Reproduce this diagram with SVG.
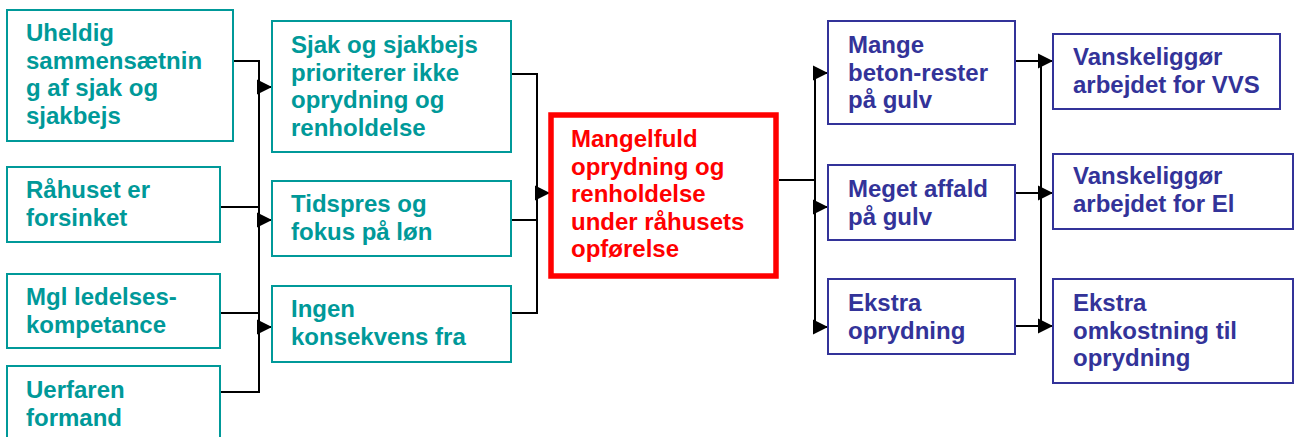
<svg xmlns="http://www.w3.org/2000/svg" width="1295" height="437" viewBox="0 0 1295 437">
<style>
  text { font-family: "Liberation Sans", Arial, sans-serif; font-weight: bold; font-size: 24px; }
  .teal rect { fill: #fff; stroke: #009999; stroke-width: 2; }
  .teal text { fill: #009999; }
  .blue rect { fill: #fff; stroke: #333399; stroke-width: 2; }
  .blue text { fill: #333399; }
  .red rect { fill: #fff; stroke: #ff0000; stroke-width: 5.5; }
  .red text { fill: #ff0000; }
  #connectors path { fill: none; stroke: #000; stroke-width: 2; }
  #connectors .arr { marker-end: url(#ah); }
</style>
<defs>
  <marker id="ah" markerUnits="userSpaceOnUse" markerWidth="15" markerHeight="16" refX="15" refY="7.5" orient="auto" viewBox="0 0 15 15">
    <path d="M0,0 L15,7.5 L0,15 Z" fill="#000" stroke="none"/>
  </marker>
</defs>
<rect width="1295" height="437" fill="#fff"/>

<g id="connectors">
  <path d="M233,61 H259 V392 H220"/>
  <path d="M220,207 H259"/>
  <path d="M220,313 H259"/>
  <path class="arr" d="M258,87 H272"/>
  <path class="arr" d="M258,220 H272"/>
  <path class="arr" d="M258,327 H272"/>
  <path d="M511,74 H537 V313 H511"/>
  <path d="M511,220 H537"/>
  <path class="arr" d="M536,193 H550"/>
  <path d="M779,180 H815"/>
  <path d="M815,73 V327"/>
  <path class="arr" d="M814,73 H828"/>
  <path class="arr" d="M814,207 H828"/>
  <path class="arr" d="M814,327 H828"/>
  <path d="M1015,61 H1041 V326"/>
  <path d="M1015,193 H1041"/>
  <path d="M1015,326 H1041"/>
  <path class="arr" d="M1040,61 H1053"/>
  <path class="arr" d="M1040,193 H1053"/>
  <path class="arr" d="M1040,326 H1053"/>
</g>

<g id="n-uheldig" class="teal">
  <rect x="7" y="10" width="226" height="131"/>
  <text x="26"><tspan x="26" y="41">Uheldig</tspan><tspan x="26" y="68.5">sammensætnin</tspan><tspan x="26" y="96">g af sjak og</tspan><tspan x="26" y="123.5">sjakbejs</tspan></text>
</g>
<g id="n-raahuset" class="teal">
  <rect x="7" y="167" width="213" height="75"/>
  <text x="26"><tspan x="26" y="198">Råhuset er</tspan><tspan x="26" y="225.5">forsinket</tspan></text>
</g>
<g id="n-mgl" class="teal">
  <rect x="7" y="274" width="213" height="74"/>
  <text x="26"><tspan x="26" y="305">Mgl ledelses-</tspan><tspan x="26" y="332.5">kompetance</tspan></text>
</g>
<g id="n-uerfaren" class="teal">
  <rect x="7" y="366" width="213" height="80"/>
  <text x="26"><tspan x="26" y="398">Uerfaren</tspan><tspan x="26" y="425.5">formand</tspan></text>
</g>

<g id="n-sjak" class="teal">
  <rect x="272" y="21" width="239" height="131"/>
  <text x="291"><tspan x="291" y="53">Sjak og sjakbejs</tspan><tspan x="291" y="80.5">prioriterer ikke</tspan><tspan x="291" y="108">oprydning og</tspan><tspan x="291" y="135.5">renholdelse</tspan></text>
</g>
<g id="n-tidspres" class="teal">
  <rect x="272" y="181" width="239" height="75"/>
  <text x="291"><tspan x="291" y="212">Tidspres og</tspan><tspan x="291" y="239.5">fokus på løn</tspan></text>
</g>
<g id="n-ingen" class="teal">
  <rect x="272" y="286" width="239" height="76"/>
  <text x="291"><tspan x="291" y="317">Ingen</tspan><tspan x="291" y="344.5">konsekvens fra</tspan></text>
</g>

<g id="n-mangelfuld" class="red">
  <rect x="551" y="115" width="225" height="161"/>
  <text x="571"><tspan x="571" y="147">Mangelfuld</tspan><tspan x="571" y="174.5">oprydning og</tspan><tspan x="571" y="202">renholdelse</tspan><tspan x="571" y="229.5">under råhusets</tspan><tspan x="571" y="257">opførelse</tspan></text>
</g>

<g id="n-beton" class="blue">
  <rect x="828" y="21" width="187" height="103"/>
  <text x="848"><tspan x="848" y="53">Mange</tspan><tspan x="848" y="80.5">beton-rester</tspan><tspan x="848" y="108">på gulv</tspan></text>
</g>
<g id="n-affald" class="blue">
  <rect x="828" y="165" width="187" height="75"/>
  <text x="848"><tspan x="848" y="197">Meget affald</tspan><tspan x="848" y="224.5">på gulv</tspan></text>
</g>
<g id="n-ekstra-opr" class="blue">
  <rect x="828" y="279" width="187" height="75"/>
  <text x="848"><tspan x="848" y="311">Ekstra</tspan><tspan x="848" y="338.5">oprydning</tspan></text>
</g>

<g id="n-vvs" class="blue">
  <rect x="1053" y="34" width="227" height="75"/>
  <text x="1073"><tspan x="1073" y="65">Vanskeliggør</tspan><tspan x="1073" y="92.5">arbejdet for VVS</tspan></text>
</g>
<g id="n-el" class="blue">
  <rect x="1053" y="154" width="240" height="75"/>
  <text x="1073"><tspan x="1073" y="184">Vanskeliggør</tspan><tspan x="1073" y="211.5">arbejdet for El</tspan></text>
</g>
<g id="n-omkost" class="blue">
  <rect x="1053" y="279" width="240" height="104"/>
  <text x="1073"><tspan x="1073" y="311">Ekstra</tspan><tspan x="1073" y="338.5">omkostning til</tspan><tspan x="1073" y="366">oprydning</tspan></text>
</g>
</svg>
